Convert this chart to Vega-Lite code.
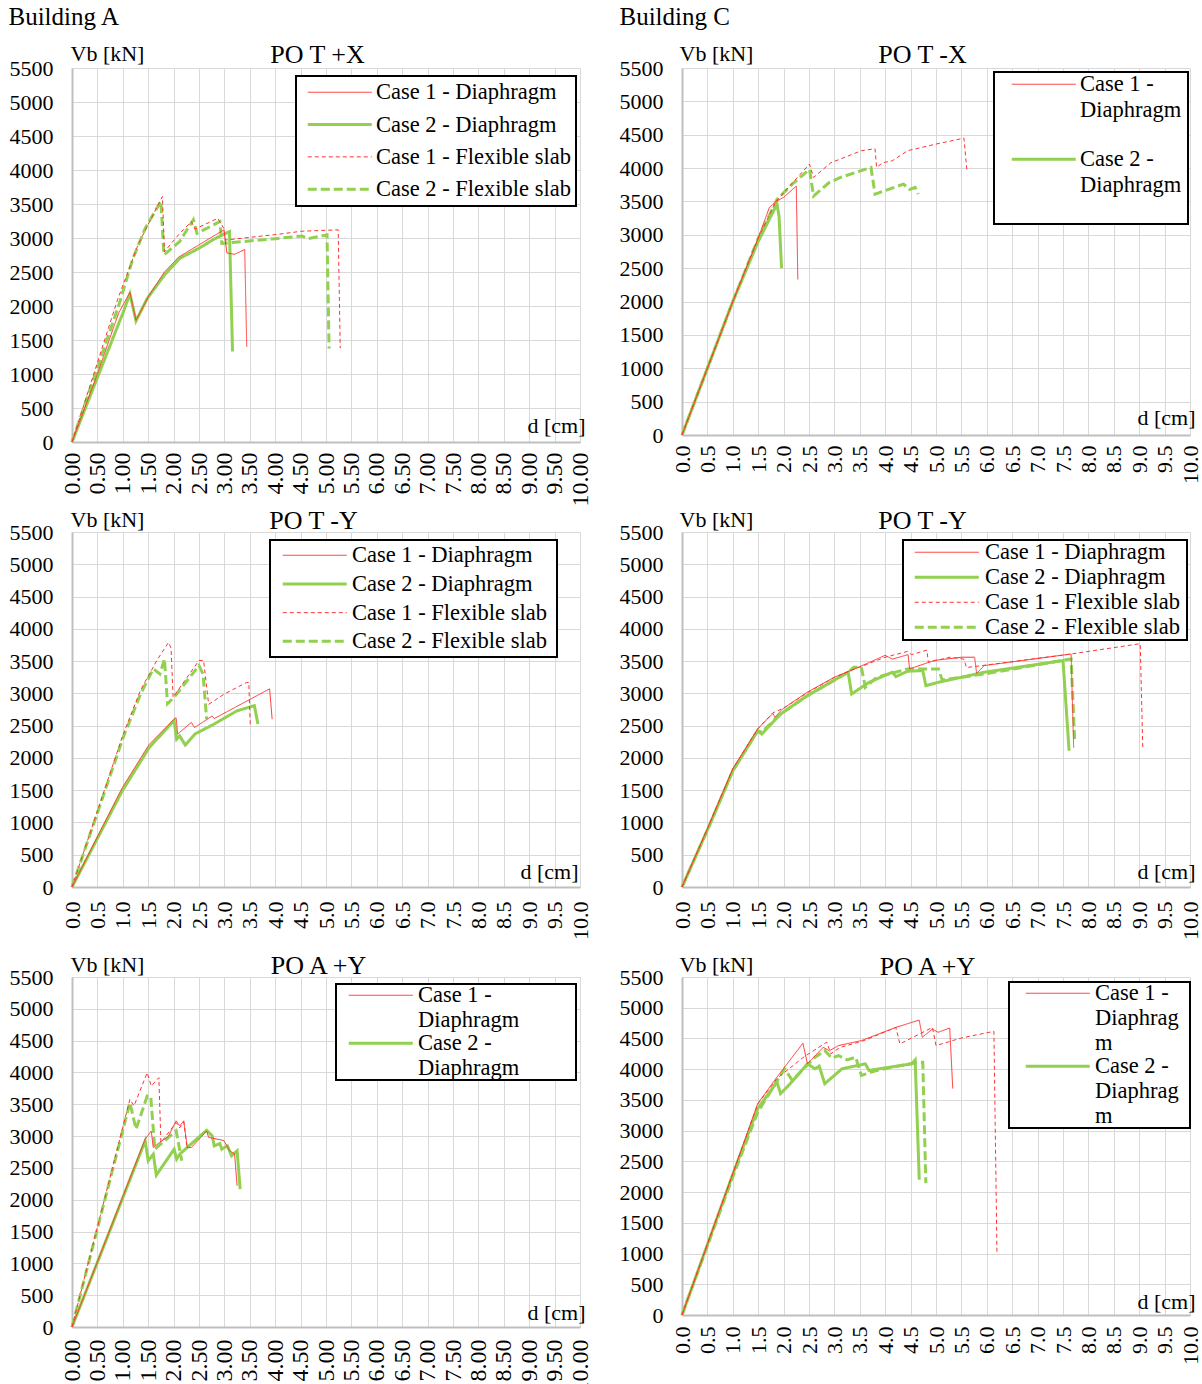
{
"$schema": "https://vega.github.io/schema/vega-lite/v6.json",
"background": "white",
"padding": {"left": 8, "top": 4, "right": 5, "bottom": 5},
"autosize": {"type": "pad"},
"datasets": {
"p1": [
{"s":"Case 1 - Diaphragm","i":0,"x":0,"y":0},{"s":"Case 1 - Diaphragm","i":1,"x":0.45,"y":900},{"s":"Case 1 - Diaphragm","i":2,"x":0.92,"y":1900},{"s":"Case 1 - Diaphragm","i":3,"x":1.14,"y":2200},{"s":"Case 1 - Diaphragm","i":4,"x":1.26,"y":1790},{"s":"Case 1 - Diaphragm","i":5,"x":1.52,"y":2160},{"s":"Case 1 - Diaphragm","i":6,"x":1.82,"y":2500},{"s":"Case 1 - Diaphragm","i":7,"x":2.1,"y":2720},{"s":"Case 1 - Diaphragm","i":8,"x":2.5,"y":2900},{"s":"Case 1 - Diaphragm","i":9,"x":2.99,"y":3120},{"s":"Case 1 - Diaphragm","i":10,"x":3.05,"y":2780},{"s":"Case 1 - Diaphragm","i":11,"x":3.2,"y":2760},{"s":"Case 1 - Diaphragm","i":12,"x":3.4,"y":2830},{"s":"Case 1 - Diaphragm","i":13,"x":3.44,"y":1400},
{"s":"Case 2 - Diaphragm","i":0,"x":0,"y":0},{"s":"Case 2 - Diaphragm","i":1,"x":0.95,"y":1800},{"s":"Case 2 - Diaphragm","i":2,"x":1.0,"y":1890},{"s":"Case 2 - Diaphragm","i":3,"x":1.14,"y":2180},{"s":"Case 2 - Diaphragm","i":4,"x":1.26,"y":1780},{"s":"Case 2 - Diaphragm","i":5,"x":1.48,"y":2110},{"s":"Case 2 - Diaphragm","i":6,"x":1.82,"y":2456},{"s":"Case 2 - Diaphragm","i":7,"x":2.12,"y":2700},{"s":"Case 2 - Diaphragm","i":8,"x":2.5,"y":2850},{"s":"Case 2 - Diaphragm","i":9,"x":2.8,"y":2985},{"s":"Case 2 - Diaphragm","i":10,"x":3.1,"y":3095},{"s":"Case 2 - Diaphragm","i":11,"x":3.16,"y":1330},
{"s":"Case 1 - Flexible slab","i":0,"x":0,"y":0},{"s":"Case 1 - Flexible slab","i":1,"x":0.9,"y":2100},{"s":"Case 1 - Flexible slab","i":2,"x":1.3,"y":2900},{"s":"Case 1 - Flexible slab","i":3,"x":1.5,"y":3200},{"s":"Case 1 - Flexible slab","i":4,"x":1.78,"y":3610},{"s":"Case 1 - Flexible slab","i":5,"x":1.82,"y":2800},{"s":"Case 1 - Flexible slab","i":6,"x":2.1,"y":3050},{"s":"Case 1 - Flexible slab","i":7,"x":2.35,"y":3240},{"s":"Case 1 - Flexible slab","i":8,"x":2.42,"y":3130},{"s":"Case 1 - Flexible slab","i":9,"x":2.87,"y":3290},{"s":"Case 1 - Flexible slab","i":10,"x":2.99,"y":3140},{"s":"Case 1 - Flexible slab","i":11,"x":3.02,"y":2970},{"s":"Case 1 - Flexible slab","i":12,"x":4.0,"y":3050},{"s":"Case 1 - Flexible slab","i":13,"x":4.53,"y":3100},{"s":"Case 1 - Flexible slab","i":14,"x":5.24,"y":3120},{"s":"Case 1 - Flexible slab","i":15,"x":5.28,"y":1380},
{"s":"Case 2 - Flexible slab","i":0,"x":0,"y":0},{"s":"Case 2 - Flexible slab","i":1,"x":0.92,"y":2010},{"s":"Case 2 - Flexible slab","i":2,"x":1.2,"y":2700},{"s":"Case 2 - Flexible slab","i":3,"x":1.44,"y":3140},{"s":"Case 2 - Flexible slab","i":4,"x":1.75,"y":3540},{"s":"Case 2 - Flexible slab","i":5,"x":1.81,"y":2750},{"s":"Case 2 - Flexible slab","i":6,"x":2.12,"y":2950},{"s":"Case 2 - Flexible slab","i":7,"x":2.39,"y":3270},{"s":"Case 2 - Flexible slab","i":8,"x":2.46,"y":3070},{"s":"Case 2 - Flexible slab","i":9,"x":2.91,"y":3240},{"s":"Case 2 - Flexible slab","i":10,"x":2.95,"y":2920},{"s":"Case 2 - Flexible slab","i":11,"x":4.0,"y":2990},{"s":"Case 2 - Flexible slab","i":12,"x":4.53,"y":3030},{"s":"Case 2 - Flexible slab","i":13,"x":4.65,"y":2990},{"s":"Case 2 - Flexible slab","i":14,"x":5.02,"y":3045},{"s":"Case 2 - Flexible slab","i":15,"x":5.06,"y":1375}
],
"p2": [
{"s":"Case 1 - Diaphragm","i":0,"x":0,"y":0},{"s":"Case 1 - Diaphragm","i":1,"x":1.0,"y":2000},{"s":"Case 1 - Diaphragm","i":2,"x":1.5,"y":2950},{"s":"Case 1 - Diaphragm","i":3,"x":1.72,"y":3410},{"s":"Case 1 - Diaphragm","i":4,"x":1.85,"y":3500},{"s":"Case 1 - Diaphragm","i":5,"x":2.0,"y":3560},{"s":"Case 1 - Diaphragm","i":6,"x":2.1,"y":3630},{"s":"Case 1 - Diaphragm","i":7,"x":2.25,"y":3730},{"s":"Case 1 - Diaphragm","i":8,"x":2.28,"y":2330},
{"s":"Case 2 - Diaphragm","i":0,"x":0,"y":0},{"s":"Case 2 - Diaphragm","i":1,"x":1.0,"y":2000},{"s":"Case 2 - Diaphragm","i":2,"x":1.5,"y":2900},{"s":"Case 2 - Diaphragm","i":3,"x":1.87,"y":3460},{"s":"Case 2 - Diaphragm","i":4,"x":1.91,"y":3280},{"s":"Case 2 - Diaphragm","i":5,"x":1.96,"y":2500},
{"s":"Case 1 - Flexible slab","i":0,"x":0,"y":0},{"s":"Case 1 - Flexible slab","i":1,"x":1.0,"y":2000},{"s":"Case 1 - Flexible slab","i":2,"x":1.5,"y":2950},{"s":"Case 1 - Flexible slab","i":3,"x":1.85,"y":3500},{"s":"Case 1 - Flexible slab","i":4,"x":2.2,"y":3800},{"s":"Case 1 - Flexible slab","i":5,"x":2.51,"y":4060},{"s":"Case 1 - Flexible slab","i":6,"x":2.59,"y":3860},{"s":"Case 1 - Flexible slab","i":7,"x":2.93,"y":4080},{"s":"Case 1 - Flexible slab","i":8,"x":3.53,"y":4260},{"s":"Case 1 - Flexible slab","i":9,"x":3.8,"y":4290},{"s":"Case 1 - Flexible slab","i":10,"x":3.83,"y":4010},{"s":"Case 1 - Flexible slab","i":11,"x":3.95,"y":4080},{"s":"Case 1 - Flexible slab","i":12,"x":4.14,"y":4110},{"s":"Case 1 - Flexible slab","i":13,"x":4.44,"y":4260},{"s":"Case 1 - Flexible slab","i":14,"x":5.0,"y":4360},{"s":"Case 1 - Flexible slab","i":15,"x":5.5,"y":4440},{"s":"Case 1 - Flexible slab","i":16,"x":5.55,"y":4450},{"s":"Case 1 - Flexible slab","i":17,"x":5.61,"y":3950},
{"s":"Case 2 - Flexible slab","i":0,"x":0,"y":0},{"s":"Case 2 - Flexible slab","i":1,"x":1.0,"y":2000},{"s":"Case 2 - Flexible slab","i":2,"x":1.49,"y":2930},{"s":"Case 2 - Flexible slab","i":3,"x":1.87,"y":3530},{"s":"Case 2 - Flexible slab","i":4,"x":2.17,"y":3760},{"s":"Case 2 - Flexible slab","i":5,"x":2.51,"y":3980},{"s":"Case 2 - Flexible slab","i":6,"x":2.59,"y":3580},{"s":"Case 2 - Flexible slab","i":7,"x":2.89,"y":3780},{"s":"Case 2 - Flexible slab","i":8,"x":3.12,"y":3860},{"s":"Case 2 - Flexible slab","i":9,"x":3.72,"y":4010},{"s":"Case 2 - Flexible slab","i":10,"x":3.8,"y":3610},{"s":"Case 2 - Flexible slab","i":11,"x":4.36,"y":3760},{"s":"Case 2 - Flexible slab","i":12,"x":4.48,"y":3680},{"s":"Case 2 - Flexible slab","i":13,"x":4.59,"y":3710},{"s":"Case 2 - Flexible slab","i":14,"x":4.65,"y":3610}
],
"p3": [
{"s":"Case 1 - Diaphragm","i":0,"x":0,"y":0},{"s":"Case 1 - Diaphragm","i":1,"x":0.99,"y":1540},{"s":"Case 1 - Diaphragm","i":2,"x":1.52,"y":2210},{"s":"Case 1 - Diaphragm","i":3,"x":2.01,"y":2600},{"s":"Case 1 - Diaphragm","i":4,"x":2.05,"y":2620},{"s":"Case 1 - Diaphragm","i":5,"x":2.08,"y":2370},{"s":"Case 1 - Diaphragm","i":6,"x":2.35,"y":2550},{"s":"Case 1 - Diaphragm","i":7,"x":2.41,"y":2470},{"s":"Case 1 - Diaphragm","i":8,"x":2.76,"y":2650},{"s":"Case 1 - Diaphragm","i":9,"x":2.8,"y":2610},{"s":"Case 1 - Diaphragm","i":10,"x":3.89,"y":3070},{"s":"Case 1 - Diaphragm","i":11,"x":3.94,"y":2600},
{"s":"Case 2 - Diaphragm","i":0,"x":0,"y":0},{"s":"Case 2 - Diaphragm","i":1,"x":0.99,"y":1490},{"s":"Case 2 - Diaphragm","i":2,"x":1.52,"y":2160},{"s":"Case 2 - Diaphragm","i":3,"x":2.01,"y":2580},{"s":"Case 2 - Diaphragm","i":4,"x":2.06,"y":2290},{"s":"Case 2 - Diaphragm","i":5,"x":2.12,"y":2340},{"s":"Case 2 - Diaphragm","i":6,"x":2.23,"y":2200},{"s":"Case 2 - Diaphragm","i":7,"x":2.42,"y":2370},{"s":"Case 2 - Diaphragm","i":8,"x":2.8,"y":2525},{"s":"Case 2 - Diaphragm","i":9,"x":3.25,"y":2730},{"s":"Case 2 - Diaphragm","i":10,"x":3.59,"y":2810},{"s":"Case 2 - Diaphragm","i":11,"x":3.66,"y":2525},
{"s":"Case 1 - Flexible slab","i":0,"x":0,"y":0},{"s":"Case 1 - Flexible slab","i":1,"x":1.0,"y":2350},{"s":"Case 1 - Flexible slab","i":2,"x":1.35,"y":3050},{"s":"Case 1 - Flexible slab","i":3,"x":1.67,"y":3510},{"s":"Case 1 - Flexible slab","i":4,"x":1.9,"y":3790},{"s":"Case 1 - Flexible slab","i":5,"x":1.95,"y":3700},{"s":"Case 1 - Flexible slab","i":6,"x":1.99,"y":2940},{"s":"Case 1 - Flexible slab","i":7,"x":2.5,"y":3510},{"s":"Case 1 - Flexible slab","i":8,"x":2.59,"y":3510},{"s":"Case 1 - Flexible slab","i":9,"x":2.69,"y":2830},{"s":"Case 1 - Flexible slab","i":10,"x":3.0,"y":2990},{"s":"Case 1 - Flexible slab","i":11,"x":3.44,"y":3170},{"s":"Case 1 - Flexible slab","i":12,"x":3.48,"y":3170},{"s":"Case 1 - Flexible slab","i":13,"x":3.51,"y":2500},
{"s":"Case 2 - Flexible slab","i":0,"x":0,"y":0},{"s":"Case 2 - Flexible slab","i":1,"x":1.0,"y":2300},{"s":"Case 2 - Flexible slab","i":2,"x":1.35,"y":2990},{"s":"Case 2 - Flexible slab","i":3,"x":1.6,"y":3380},{"s":"Case 2 - Flexible slab","i":4,"x":1.73,"y":3300},{"s":"Case 2 - Flexible slab","i":5,"x":1.82,"y":3530},{"s":"Case 2 - Flexible slab","i":6,"x":1.88,"y":2840},{"s":"Case 2 - Flexible slab","i":7,"x":2.01,"y":2940},{"s":"Case 2 - Flexible slab","i":8,"x":2.5,"y":3430},{"s":"Case 2 - Flexible slab","i":9,"x":2.58,"y":3300},{"s":"Case 2 - Flexible slab","i":10,"x":2.65,"y":2600}
],
"p4": [
{"s":"Case 1 - Diaphragm","i":0,"x":0,"y":0},{"s":"Case 1 - Diaphragm","i":1,"x":0.51,"y":920},{"s":"Case 1 - Diaphragm","i":2,"x":1.0,"y":1830},{"s":"Case 1 - Diaphragm","i":3,"x":1.49,"y":2450},{"s":"Case 1 - Diaphragm","i":4,"x":1.79,"y":2690},{"s":"Case 1 - Diaphragm","i":5,"x":1.83,"y":2630},{"s":"Case 1 - Diaphragm","i":6,"x":1.98,"y":2760},{"s":"Case 1 - Diaphragm","i":7,"x":2.47,"y":3020},{"s":"Case 1 - Diaphragm","i":8,"x":3.0,"y":3250},{"s":"Case 1 - Diaphragm","i":9,"x":3.31,"y":3350},{"s":"Case 1 - Diaphragm","i":10,"x":3.69,"y":3480},{"s":"Case 1 - Diaphragm","i":11,"x":4.0,"y":3590},{"s":"Case 1 - Diaphragm","i":12,"x":4.14,"y":3530},{"s":"Case 1 - Diaphragm","i":13,"x":4.45,"y":3600},{"s":"Case 1 - Diaphragm","i":14,"x":4.48,"y":3380},{"s":"Case 1 - Diaphragm","i":15,"x":4.97,"y":3510},{"s":"Case 1 - Diaphragm","i":16,"x":5.5,"y":3560},{"s":"Case 1 - Diaphragm","i":17,"x":5.76,"y":3560},{"s":"Case 1 - Diaphragm","i":18,"x":5.8,"y":3310},{"s":"Case 1 - Diaphragm","i":19,"x":5.95,"y":3430},{"s":"Case 1 - Diaphragm","i":20,"x":7.66,"y":3610},{"s":"Case 1 - Diaphragm","i":21,"x":7.71,"y":2160},
{"s":"Case 2 - Diaphragm","i":0,"x":0,"y":0},{"s":"Case 2 - Diaphragm","i":1,"x":0.51,"y":900},{"s":"Case 2 - Diaphragm","i":2,"x":1.0,"y":1800},{"s":"Case 2 - Diaphragm","i":3,"x":1.49,"y":2420},{"s":"Case 2 - Diaphragm","i":4,"x":1.57,"y":2370},{"s":"Case 2 - Diaphragm","i":5,"x":1.94,"y":2680},{"s":"Case 2 - Diaphragm","i":6,"x":2.47,"y":2965},{"s":"Case 2 - Diaphragm","i":7,"x":3.27,"y":3327},{"s":"Case 2 - Diaphragm","i":8,"x":3.34,"y":2990},{"s":"Case 2 - Diaphragm","i":9,"x":3.68,"y":3170},{"s":"Case 2 - Diaphragm","i":10,"x":4.14,"y":3327},{"s":"Case 2 - Diaphragm","i":11,"x":4.21,"y":3260},{"s":"Case 2 - Diaphragm","i":12,"x":4.44,"y":3343},{"s":"Case 2 - Diaphragm","i":13,"x":4.74,"y":3353},{"s":"Case 2 - Diaphragm","i":14,"x":4.8,"y":3120},{"s":"Case 2 - Diaphragm","i":15,"x":5.05,"y":3172},{"s":"Case 2 - Diaphragm","i":16,"x":5.95,"y":3327},{"s":"Case 2 - Diaphragm","i":17,"x":7.5,"y":3508},{"s":"Case 2 - Diaphragm","i":18,"x":7.62,"y":2111},
{"s":"Case 1 - Flexible slab","i":0,"x":0,"y":0},{"s":"Case 1 - Flexible slab","i":1,"x":0.51,"y":920},{"s":"Case 1 - Flexible slab","i":2,"x":1.0,"y":1830},{"s":"Case 1 - Flexible slab","i":3,"x":1.49,"y":2450},{"s":"Case 1 - Flexible slab","i":4,"x":1.79,"y":2700},{"s":"Case 1 - Flexible slab","i":5,"x":2.0,"y":2770},{"s":"Case 1 - Flexible slab","i":6,"x":2.47,"y":3010},{"s":"Case 1 - Flexible slab","i":7,"x":3.0,"y":3250},{"s":"Case 1 - Flexible slab","i":8,"x":3.31,"y":3350},{"s":"Case 1 - Flexible slab","i":9,"x":4.0,"y":3560},{"s":"Case 1 - Flexible slab","i":10,"x":4.44,"y":3650},{"s":"Case 1 - Flexible slab","i":11,"x":4.52,"y":3600},{"s":"Case 1 - Flexible slab","i":12,"x":4.82,"y":3670},{"s":"Case 1 - Flexible slab","i":13,"x":4.85,"y":3480},{"s":"Case 1 - Flexible slab","i":14,"x":5.27,"y":3560},{"s":"Case 1 - Flexible slab","i":15,"x":5.55,"y":3530},{"s":"Case 1 - Flexible slab","i":16,"x":5.6,"y":3400},{"s":"Case 1 - Flexible slab","i":17,"x":6.0,"y":3440},{"s":"Case 1 - Flexible slab","i":18,"x":7.66,"y":3610},{"s":"Case 1 - Flexible slab","i":19,"x":9.02,"y":3770},{"s":"Case 1 - Flexible slab","i":20,"x":9.07,"y":2160},
{"s":"Case 2 - Flexible slab","i":0,"x":0,"y":0},{"s":"Case 2 - Flexible slab","i":1,"x":0.51,"y":900},{"s":"Case 2 - Flexible slab","i":2,"x":1.0,"y":1800},{"s":"Case 2 - Flexible slab","i":3,"x":1.49,"y":2420},{"s":"Case 2 - Flexible slab","i":4,"x":1.57,"y":2400},{"s":"Case 2 - Flexible slab","i":5,"x":1.94,"y":2680},{"s":"Case 2 - Flexible slab","i":6,"x":2.47,"y":2965},{"s":"Case 2 - Flexible slab","i":7,"x":3.27,"y":3327},{"s":"Case 2 - Flexible slab","i":8,"x":3.38,"y":3405},{"s":"Case 2 - Flexible slab","i":9,"x":3.53,"y":3405},{"s":"Case 2 - Flexible slab","i":10,"x":3.61,"y":3094},{"s":"Case 2 - Flexible slab","i":11,"x":3.83,"y":3249},{"s":"Case 2 - Flexible slab","i":12,"x":4.44,"y":3379},{"s":"Case 2 - Flexible slab","i":13,"x":5.05,"y":3379},{"s":"Case 2 - Flexible slab","i":14,"x":5.12,"y":3208},{"s":"Case 2 - Flexible slab","i":15,"x":5.95,"y":3300},{"s":"Case 2 - Flexible slab","i":16,"x":7.66,"y":3534},{"s":"Case 2 - Flexible slab","i":17,"x":7.73,"y":2266}
],
"p5": [
{"s":"Case 1 - Diaphragm","i":0,"x":0,"y":0},{"s":"Case 1 - Diaphragm","i":1,"x":1.44,"y":2950},{"s":"Case 1 - Diaphragm","i":2,"x":1.56,"y":3080},{"s":"Case 1 - Diaphragm","i":3,"x":1.6,"y":2820},{"s":"Case 1 - Diaphragm","i":4,"x":1.66,"y":2860},{"s":"Case 1 - Diaphragm","i":5,"x":1.9,"y":3000},{"s":"Case 1 - Diaphragm","i":6,"x":2.05,"y":3240},{"s":"Case 1 - Diaphragm","i":7,"x":2.12,"y":3160},{"s":"Case 1 - Diaphragm","i":8,"x":2.2,"y":3240},{"s":"Case 1 - Diaphragm","i":9,"x":2.27,"y":2820},{"s":"Case 1 - Diaphragm","i":10,"x":2.35,"y":2820},{"s":"Case 1 - Diaphragm","i":11,"x":2.65,"y":3080},{"s":"Case 1 - Diaphragm","i":12,"x":2.69,"y":2980},{"s":"Case 1 - Diaphragm","i":13,"x":2.99,"y":2930},{"s":"Case 1 - Diaphragm","i":14,"x":3.1,"y":2770},{"s":"Case 1 - Diaphragm","i":15,"x":3.2,"y":2720},{"s":"Case 1 - Diaphragm","i":16,"x":3.25,"y":2220},
{"s":"Case 2 - Diaphragm","i":0,"x":0,"y":0},{"s":"Case 2 - Diaphragm","i":1,"x":1.44,"y":2925},{"s":"Case 2 - Diaphragm","i":2,"x":1.5,"y":2612},{"s":"Case 2 - Diaphragm","i":3,"x":1.6,"y":2716},{"s":"Case 2 - Diaphragm","i":4,"x":1.66,"y":2387},{"s":"Case 2 - Diaphragm","i":5,"x":2.01,"y":2794},{"s":"Case 2 - Diaphragm","i":6,"x":2.06,"y":2638},{"s":"Case 2 - Diaphragm","i":7,"x":2.12,"y":2716},{"s":"Case 2 - Diaphragm","i":8,"x":2.65,"y":3092},{"s":"Case 2 - Diaphragm","i":9,"x":2.76,"y":3003},{"s":"Case 2 - Diaphragm","i":10,"x":2.8,"y":2847},{"s":"Case 2 - Diaphragm","i":11,"x":2.91,"y":2883},{"s":"Case 2 - Diaphragm","i":12,"x":2.95,"y":2794},{"s":"Case 2 - Diaphragm","i":13,"x":3.06,"y":2847},{"s":"Case 2 - Diaphragm","i":14,"x":3.14,"y":2690},{"s":"Case 2 - Diaphragm","i":15,"x":3.25,"y":2768},{"s":"Case 2 - Diaphragm","i":16,"x":3.31,"y":2168},
{"s":"Case 1 - Flexible slab","i":0,"x":0,"y":0},{"s":"Case 1 - Flexible slab","i":1,"x":1.14,"y":3578},{"s":"Case 1 - Flexible slab","i":2,"x":1.22,"y":3474},{"s":"Case 1 - Flexible slab","i":3,"x":1.48,"y":3996},{"s":"Case 1 - Flexible slab","i":4,"x":1.56,"y":3787},{"s":"Case 1 - Flexible slab","i":5,"x":1.71,"y":3918},{"s":"Case 1 - Flexible slab","i":6,"x":1.75,"y":2899},{"s":"Case 1 - Flexible slab","i":7,"x":2.05,"y":3212},{"s":"Case 1 - Flexible slab","i":8,"x":2.12,"y":3130},{"s":"Case 1 - Flexible slab","i":9,"x":2.2,"y":3223},{"s":"Case 1 - Flexible slab","i":10,"x":2.26,"y":2847},
{"s":"Case 2 - Flexible slab","i":0,"x":0,"y":0},{"s":"Case 2 - Flexible slab","i":1,"x":1.14,"y":3526},{"s":"Case 2 - Flexible slab","i":2,"x":1.26,"y":3108},{"s":"Case 2 - Flexible slab","i":3,"x":1.48,"y":3630},{"s":"Case 2 - Flexible slab","i":4,"x":1.55,"y":3620},{"s":"Case 2 - Flexible slab","i":5,"x":1.63,"y":2794},{"s":"Case 2 - Flexible slab","i":6,"x":2.05,"y":3082},{"s":"Case 2 - Flexible slab","i":7,"x":2.16,"y":2612}
],
"p6": [
{"s":"Case 1 - Diaphragm","i":0,"x":0,"y":0},{"s":"Case 1 - Diaphragm","i":1,"x":1.0,"y":2300},{"s":"Case 1 - Diaphragm","i":2,"x":1.49,"y":3440},{"s":"Case 1 - Diaphragm","i":3,"x":1.87,"y":3872},{"s":"Case 1 - Diaphragm","i":4,"x":2.38,"y":4422},{"s":"Case 1 - Diaphragm","i":5,"x":2.47,"y":4087},{"s":"Case 1 - Diaphragm","i":6,"x":2.78,"y":4357},{"s":"Case 1 - Diaphragm","i":7,"x":2.9,"y":4300},{"s":"Case 1 - Diaphragm","i":8,"x":3.08,"y":4384},{"s":"Case 1 - Diaphragm","i":9,"x":3.53,"y":4465},{"s":"Case 1 - Diaphragm","i":10,"x":4.21,"y":4680},{"s":"Case 1 - Diaphragm","i":11,"x":4.67,"y":4799},{"s":"Case 1 - Diaphragm","i":12,"x":4.73,"y":4519},{"s":"Case 1 - Diaphragm","i":13,"x":4.93,"y":4653},{"s":"Case 1 - Diaphragm","i":14,"x":5.04,"y":4600},{"s":"Case 1 - Diaphragm","i":15,"x":5.27,"y":4670},{"s":"Case 1 - Diaphragm","i":16,"x":5.33,"y":3683},
{"s":"Case 2 - Diaphragm","i":0,"x":0,"y":0},{"s":"Case 2 - Diaphragm","i":1,"x":1.0,"y":2290},{"s":"Case 2 - Diaphragm","i":2,"x":1.49,"y":3359},{"s":"Case 2 - Diaphragm","i":3,"x":1.87,"y":3791},{"s":"Case 2 - Diaphragm","i":4,"x":1.94,"y":3602},{"s":"Case 2 - Diaphragm","i":5,"x":2.1,"y":3737},{"s":"Case 2 - Diaphragm","i":6,"x":2.47,"y":4087},{"s":"Case 2 - Diaphragm","i":7,"x":2.62,"y":4006},{"s":"Case 2 - Diaphragm","i":8,"x":2.7,"y":4050},{"s":"Case 2 - Diaphragm","i":9,"x":2.81,"y":3764},{"s":"Case 2 - Diaphragm","i":10,"x":3.15,"y":4006},{"s":"Case 2 - Diaphragm","i":11,"x":3.61,"y":4087},{"s":"Case 2 - Diaphragm","i":12,"x":3.68,"y":3980},{"s":"Case 2 - Diaphragm","i":13,"x":4.52,"y":4087},{"s":"Case 2 - Diaphragm","i":14,"x":4.59,"y":4152},{"s":"Case 2 - Diaphragm","i":15,"x":4.67,"y":2200},
{"s":"Case 1 - Flexible slab","i":0,"x":0,"y":0},{"s":"Case 1 - Flexible slab","i":1,"x":1.0,"y":2300},{"s":"Case 1 - Flexible slab","i":2,"x":1.49,"y":3430},{"s":"Case 1 - Flexible slab","i":3,"x":1.87,"y":3850},{"s":"Case 1 - Flexible slab","i":4,"x":2.4,"y":4200},{"s":"Case 1 - Flexible slab","i":5,"x":2.85,"y":4440},{"s":"Case 1 - Flexible slab","i":6,"x":2.93,"y":4250},{"s":"Case 1 - Flexible slab","i":7,"x":3.1,"y":4350},{"s":"Case 1 - Flexible slab","i":8,"x":3.6,"y":4470},{"s":"Case 1 - Flexible slab","i":9,"x":4.21,"y":4680},{"s":"Case 1 - Flexible slab","i":10,"x":4.29,"y":4411},{"s":"Case 1 - Flexible slab","i":11,"x":4.93,"y":4680},{"s":"Case 1 - Flexible slab","i":12,"x":5.0,"y":4384},{"s":"Case 1 - Flexible slab","i":13,"x":5.5,"y":4508},{"s":"Case 1 - Flexible slab","i":14,"x":6.14,"y":4616},{"s":"Case 1 - Flexible slab","i":15,"x":6.2,"y":1014},
{"s":"Case 2 - Flexible slab","i":0,"x":0,"y":0},{"s":"Case 2 - Flexible slab","i":1,"x":1.0,"y":2250},{"s":"Case 2 - Flexible slab","i":2,"x":1.49,"y":3300},{"s":"Case 2 - Flexible slab","i":3,"x":2.02,"y":4006},{"s":"Case 2 - Flexible slab","i":4,"x":2.17,"y":3818},{"s":"Case 2 - Flexible slab","i":5,"x":2.62,"y":4195},{"s":"Case 2 - Flexible slab","i":6,"x":2.81,"y":4303},{"s":"Case 2 - Flexible slab","i":7,"x":2.95,"y":4180},{"s":"Case 2 - Flexible slab","i":8,"x":3.08,"y":4222},{"s":"Case 2 - Flexible slab","i":9,"x":3.25,"y":4150},{"s":"Case 2 - Flexible slab","i":10,"x":3.42,"y":4195},{"s":"Case 2 - Flexible slab","i":11,"x":3.53,"y":3899},{"s":"Case 2 - Flexible slab","i":12,"x":3.84,"y":3980},{"s":"Case 2 - Flexible slab","i":13,"x":4.14,"y":4033},{"s":"Case 2 - Flexible slab","i":14,"x":4.67,"y":4114},{"s":"Case 2 - Flexible slab","i":15,"x":4.74,"y":4114},{"s":"Case 2 - Flexible slab","i":16,"x":4.8,"y":2146}
]
},
"columns": 2,
"spacing": {"row": 90, "column": 102},
"bounds": "flush",
"resolve": {"scale": {"color": "independent", "strokeDash": "independent", "strokeWidth": "independent"}, "legend": {"color": "independent", "strokeDash": "independent", "strokeWidth": "independent"}},
"concat": [
{
 "width": 508, "height": 374, "data": {"name": "p1"},
 "layer": [
  {"transform": [{"filter": "indexof(datum.s,'Case 2')==0"}], "mark": {"type": "line"},
   "encoding": {
    "x": {"field": "x", "type": "quantitative", "scale": {"domain": [0, 10], "nice": false}, "axis": {"orient": "bottom", "values": [0,0.5,1,1.5,2,2.5,3,3.5,4,4.5,5,5.5,6,6.5,7,7.5,8,8.5,9,9.5,10], "format": ".2f", "labelFontSize": 24, "labelAngle": 270, "labelAlign": "right", "labelBaseline": "middle", "labelPadding": 10, "grid": true, "title": "d [cm]", "titleAngle": 0, "titleX": 513, "titleY": -10, "titleAlign": "right", "titleBaseline": "alphabetic"}},
    "y": {"field": "y", "type": "quantitative", "scale": {"domain": [0, 5500], "nice": false}, "axis": {"orient": "left", "values": [0,500,1000,1500,2000,2500,3000,3500,4000,4500,5000,5500], "format": "d", "labelPadding": 19, "grid": true, "title": "Vb [kN]", "titleAngle": 0, "titleX": -2, "titleY": -8, "titleAlign": "left", "titleBaseline": "alphabetic"}},
    "order": {"field": "i", "type": "quantitative"},
    "color": {"field": "s", "type": "nominal", "scale": {"domain": ["Case 1 - Diaphragm","Case 2 - Diaphragm","Case 1 - Flexible slab","Case 2 - Flexible slab"], "range": ["#ff3333","#92d050","#ff3333","#92d050"]},
      "legend": {"title": null, "orient": "none", "legendX": 224, "legendY": 8, "padding": 5, "rowPadding": 9.3, "symbolOffset": -4.5, "labelOffset": 57, "encode": {"legend": {"update": {"strokeWidth": {"value": 2}}}}}},
    "strokeDash": {"field": "s", "type": "nominal", "scale": {"domain": ["Case 1 - Diaphragm","Case 2 - Diaphragm","Case 1 - Flexible slab","Case 2 - Flexible slab"], "range": [[1,0],[1,0],[4,3],[9,4]]}},
    "strokeWidth": {"field": "s", "type": "nominal", "scale": {"type": "ordinal", "domain": ["Case 1 - Diaphragm","Case 2 - Diaphragm","Case 1 - Flexible slab","Case 2 - Flexible slab"], "range": [1,3,1,3]}}
   }},
  {"transform": [{"filter": "indexof(datum.s,'Case 1')==0"}], "mark": {"type": "line"},
   "encoding": {
    "x": {"field": "x", "type": "quantitative", "axis": {"orient": "top", "labels": false, "domain": false, "grid": false, "title": "PO T +X", "titleFontSize": 26, "titleAngle": 0, "titleX": 245, "titleY": -6, "titleAlign": "center", "titleBaseline": "alphabetic"}},
    "y": {"field": "y", "type": "quantitative", "axis": {"orient": "left", "labels": false, "domain": false, "grid": false, "title": "Building A", "titleFontSize": 25, "titleAngle": 0, "titleX": -64, "titleY": -44, "titleAlign": "left", "titleBaseline": "alphabetic"}},
    "order": {"field": "i", "type": "quantitative"},
    "color": {"field": "s", "type": "nominal"},
    "strokeDash": {"field": "s", "type": "nominal"},
    "strokeWidth": {"field": "s", "type": "nominal", "scale": {"type": "ordinal", "domain": ["Case 1 - Diaphragm","Case 2 - Diaphragm","Case 1 - Flexible slab","Case 2 - Flexible slab"], "range": [1,3,1,3]}}
   }}
 ],
 "resolve": {"axis": {"x": "independent", "y": "independent"}}
},
{
 "width": 508, "height": 367, "data": {"name": "p2"},
 "layer": [
  {"transform": [{"filter": "indexof(datum.s,'Case 2')==0"}], "mark": {"type": "line"},
   "encoding": {
    "x": {"field": "x", "type": "quantitative", "scale": {"domain": [0, 10], "nice": false}, "axis": {"orient": "bottom", "values": [0,0.5,1,1.5,2,2.5,3,3.5,4,4.5,5,5.5,6,6.5,7,7.5,8,8.5,9,9.5,10], "format": ".1f", "labelAngle": 270, "labelAlign": "right", "labelBaseline": "middle", "labelPadding": 10, "grid": true, "title": "d [cm]", "titleAngle": 0, "titleX": 513, "titleY": -11, "titleAlign": "right", "titleBaseline": "alphabetic"}},
    "y": {"field": "y", "type": "quantitative", "scale": {"domain": [0, 5500], "nice": false}, "axis": {"orient": "left", "values": [0,500,1000,1500,2000,2500,3000,3500,4000,4500,5000,5500], "format": "d", "labelPadding": 19, "grid": true, "title": "Vb [kN]", "titleAngle": 0, "titleX": -3, "titleY": -8, "titleAlign": "left", "titleBaseline": "alphabetic"}},
    "order": {"field": "i", "type": "quantitative"},
    "color": {"field": "s", "type": "nominal", "scale": {"domain": ["Case 1 - Diaphragm","Case 2 - Diaphragm","Case 1 - Flexible slab","Case 2 - Flexible slab"], "range": ["#ff3333","#92d050","#ff3333","#92d050"]},
      "legend": {"title": null, "orient": "none", "legendX": 312, "legendY": 4, "padding": 1, "rowPadding": -1, "symbolOffset": 5.5, "labelOffset": 57, "labelBaseline": "top", "values": ["Case 1 - Diaphragm","Case 2 - Diaphragm"], "labelExpr": "datum.label == 'Case 1 - Diaphragm' ? ['Case 1 -', 'Diaphragm\u00a0\u200b', ''] : ['Case 2 -', 'Diaphragm\u00a0\u200b', '']", "encode": {"legend": {"update": {"strokeWidth": {"value": 2}}}, "labels": {"update": {"dy": {"value": -11}, "lineHeight": {"value": 26}}}}}},
    "strokeDash": {"field": "s", "type": "nominal", "scale": {"domain": ["Case 1 - Diaphragm","Case 2 - Diaphragm","Case 1 - Flexible slab","Case 2 - Flexible slab"], "range": [[1,0],[1,0],[4,3],[9,4]]}},
    "strokeWidth": {"field": "s", "type": "nominal", "scale": {"type": "ordinal", "domain": ["Case 1 - Diaphragm","Case 2 - Diaphragm","Case 1 - Flexible slab","Case 2 - Flexible slab"], "range": [1,3,1,3]}}
   }},
  {"transform": [{"filter": "indexof(datum.s,'Case 1')==0"}], "mark": {"type": "line"},
   "encoding": {
    "x": {"field": "x", "type": "quantitative", "axis": {"orient": "top", "labels": false, "domain": false, "grid": false, "title": "PO T -X", "titleFontSize": 26, "titleAngle": 0, "titleX": 240, "titleY": -6, "titleAlign": "center", "titleBaseline": "alphabetic"}},
    "y": {"field": "y", "type": "quantitative", "axis": {"orient": "left", "labels": false, "domain": false, "grid": false, "title": "Building C", "titleFontSize": 25, "titleAngle": 0, "titleX": -63, "titleY": -44, "titleAlign": "left", "titleBaseline": "alphabetic"}},
    "order": {"field": "i", "type": "quantitative"},
    "color": {"field": "s", "type": "nominal"},
    "strokeDash": {"field": "s", "type": "nominal"},
    "strokeWidth": {"field": "s", "type": "nominal", "scale": {"type": "ordinal", "domain": ["Case 1 - Diaphragm","Case 2 - Diaphragm","Case 1 - Flexible slab","Case 2 - Flexible slab"], "range": [1,3,1,3]}}
   }}
 ],
 "resolve": {"axis": {"x": "independent", "y": "independent"}}
},
{
 "width": 508, "height": 355, "data": {"name": "p3"},
 "layer": [
  {"transform": [{"filter": "indexof(datum.s,'Case 2')==0"}], "mark": {"type": "line"},
   "encoding": {
    "x": {"field": "x", "type": "quantitative", "scale": {"domain": [0, 10], "nice": false}, "axis": {"orient": "bottom", "values": [0,0.5,1,1.5,2,2.5,3,3.5,4,4.5,5,5.5,6,6.5,7,7.5,8,8.5,9,9.5,10], "format": ".1f", "labelAngle": 270, "labelAlign": "right", "labelBaseline": "middle", "labelPadding": 14, "grid": true, "title": "d [cm]", "titleAngle": 0, "titleX": 506, "titleY": -9, "titleAlign": "right", "titleBaseline": "alphabetic"}},
    "y": {"field": "y", "type": "quantitative", "scale": {"domain": [0, 5500], "nice": false}, "axis": {"orient": "left", "values": [0,500,1000,1500,2000,2500,3000,3500,4000,4500,5000,5500], "format": "d", "labelPadding": 19, "grid": true, "title": "Vb [kN]", "titleAngle": 0, "titleX": -2, "titleY": -6, "titleAlign": "left", "titleBaseline": "alphabetic"}},
    "order": {"field": "i", "type": "quantitative"},
    "color": {"field": "s", "type": "nominal", "scale": {"domain": ["Case 1 - Diaphragm","Case 2 - Diaphragm","Case 1 - Flexible slab","Case 2 - Flexible slab"], "range": ["#ff3333","#92d050","#ff3333","#92d050"]},
      "legend": {"title": null, "orient": "none", "legendX": 198, "legendY": 8, "padding": 4, "rowPadding": 5.7, "symbolOffset": -2.5, "labelOffset": 58, "labelExpr": "datum.label + '\u00a0\u200b'", "encode": {"legend": {"update": {"strokeWidth": {"value": 2}}}}}},
    "strokeDash": {"field": "s", "type": "nominal", "scale": {"domain": ["Case 1 - Diaphragm","Case 2 - Diaphragm","Case 1 - Flexible slab","Case 2 - Flexible slab"], "range": [[1,0],[1,0],[4,3],[9,4]]}},
    "strokeWidth": {"field": "s", "type": "nominal", "scale": {"type": "ordinal", "domain": ["Case 1 - Diaphragm","Case 2 - Diaphragm","Case 1 - Flexible slab","Case 2 - Flexible slab"], "range": [1,3,1,3]}}
   }},
  {"transform": [{"filter": "indexof(datum.s,'Case 1')==0"}], "mark": {"type": "line"},
   "encoding": {
    "x": {"field": "x", "type": "quantitative", "axis": {"orient": "top", "labels": false, "domain": false, "grid": false, "title": "PO T -Y", "titleFontSize": 26, "titleAngle": 0, "titleX": 241, "titleY": -4, "titleAlign": "center", "titleBaseline": "alphabetic"}},
    "y": {"field": "y", "type": "quantitative", "axis": null},
    "order": {"field": "i", "type": "quantitative"},
    "color": {"field": "s", "type": "nominal"},
    "strokeDash": {"field": "s", "type": "nominal"},
    "strokeWidth": {"field": "s", "type": "nominal", "scale": {"type": "ordinal", "domain": ["Case 1 - Diaphragm","Case 2 - Diaphragm","Case 1 - Flexible slab","Case 2 - Flexible slab"], "range": [1,3,1,3]}}
   }}
 ],
 "resolve": {"axis": {"x": "independent", "y": "independent"}}
},
{
 "width": 508, "height": 355, "data": {"name": "p4"},
 "layer": [
  {"transform": [{"filter": "indexof(datum.s,'Case 2')==0"}], "mark": {"type": "line"},
   "encoding": {
    "x": {"field": "x", "type": "quantitative", "scale": {"domain": [0, 10], "nice": false}, "axis": {"orient": "bottom", "values": [0,0.5,1,1.5,2,2.5,3,3.5,4,4.5,5,5.5,6,6.5,7,7.5,8,8.5,9,9.5,10], "format": ".1f", "labelAngle": 270, "labelAlign": "right", "labelBaseline": "middle", "labelPadding": 14, "grid": true, "title": "d [cm]", "titleAngle": 0, "titleX": 513, "titleY": -9, "titleAlign": "right", "titleBaseline": "alphabetic"}},
    "y": {"field": "y", "type": "quantitative", "scale": {"domain": [0, 5500], "nice": false}, "axis": {"orient": "left", "values": [0,500,1000,1500,2000,2500,3000,3500,4000,4500,5000,5500], "format": "d", "labelPadding": 19, "grid": true, "title": "Vb [kN]", "titleAngle": 0, "titleX": -3, "titleY": -6, "titleAlign": "left", "titleBaseline": "alphabetic"}},
    "order": {"field": "i", "type": "quantitative"},
    "color": {"field": "s", "type": "nominal", "scale": {"domain": ["Case 1 - Diaphragm","Case 2 - Diaphragm","Case 1 - Flexible slab","Case 2 - Flexible slab"], "range": ["#ff3333","#92d050","#ff3333","#92d050"]},
      "legend": {"title": null, "orient": "none", "legendX": 221, "legendY": 8, "padding": 1, "rowPadding": 2, "symbolOffset": -0.5, "labelOffset": 59, "labelExpr": "datum.label + '\u00a0\u200b'", "encode": {"legend": {"update": {"strokeWidth": {"value": 2}}}}}},
    "strokeDash": {"field": "s", "type": "nominal", "scale": {"domain": ["Case 1 - Diaphragm","Case 2 - Diaphragm","Case 1 - Flexible slab","Case 2 - Flexible slab"], "range": [[1,0],[1,0],[4,3],[9,4]]}},
    "strokeWidth": {"field": "s", "type": "nominal", "scale": {"type": "ordinal", "domain": ["Case 1 - Diaphragm","Case 2 - Diaphragm","Case 1 - Flexible slab","Case 2 - Flexible slab"], "range": [1,3,1,3]}}
   }},
  {"transform": [{"filter": "indexof(datum.s,'Case 1')==0"}], "mark": {"type": "line"},
   "encoding": {
    "x": {"field": "x", "type": "quantitative", "axis": {"orient": "top", "labels": false, "domain": false, "grid": false, "title": "PO T -Y", "titleFontSize": 26, "titleAngle": 0, "titleX": 240, "titleY": -4, "titleAlign": "center", "titleBaseline": "alphabetic"}},
    "y": {"field": "y", "type": "quantitative", "axis": null},
    "order": {"field": "i", "type": "quantitative"},
    "color": {"field": "s", "type": "nominal"},
    "strokeDash": {"field": "s", "type": "nominal"},
    "strokeWidth": {"field": "s", "type": "nominal", "scale": {"type": "ordinal", "domain": ["Case 1 - Diaphragm","Case 2 - Diaphragm","Case 1 - Flexible slab","Case 2 - Flexible slab"], "range": [1,3,1,3]}}
   }}
 ],
 "resolve": {"axis": {"x": "independent", "y": "independent"}}
},
{
 "width": 508, "height": 350, "data": {"name": "p5"},
 "layer": [
  {"transform": [{"filter": "indexof(datum.s,'Case 2')==0"}], "mark": {"type": "line"},
   "encoding": {
    "x": {"field": "x", "type": "quantitative", "scale": {"domain": [0, 10], "nice": false}, "axis": {"orient": "bottom", "values": [0,0.5,1,1.5,2,2.5,3,3.5,4,4.5,5,5.5,6,6.5,7,7.5,8,8.5,9,9.5,10], "format": ".2f", "labelFontSize": 24, "labelAngle": 270, "labelAlign": "right", "labelBaseline": "middle", "labelPadding": 12, "grid": true, "title": "d [cm]", "titleAngle": 0, "titleX": 513, "titleY": -8, "titleAlign": "right", "titleBaseline": "alphabetic"}},
    "y": {"field": "y", "type": "quantitative", "scale": {"domain": [0, 5500], "nice": false}, "axis": {"orient": "left", "values": [0,500,1000,1500,2000,2500,3000,3500,4000,4500,5000,5500], "format": "d", "labelPadding": 19, "grid": true, "title": "Vb [kN]", "titleAngle": 0, "titleX": -2, "titleY": -6, "titleAlign": "left", "titleBaseline": "alphabetic"}},
    "order": {"field": "i", "type": "quantitative"},
    "color": {"field": "s", "type": "nominal", "scale": {"domain": ["Case 1 - Diaphragm","Case 2 - Diaphragm","Case 1 - Flexible slab","Case 2 - Flexible slab"], "range": ["#ff3333","#92d050","#ff3333","#92d050"]},
      "legend": {"title": null, "orient": "none", "legendX": 264, "legendY": 7, "padding": 0, "rowPadding": 0, "symbolOffset": 1.5, "labelOffset": 58, "labelBaseline": "top", "values": ["Case 1 - Diaphragm","Case 2 - Diaphragm"], "labelExpr": "datum.label == 'Case 1 - Diaphragm' ? ['Case 1 -', 'Diaphragm\u00a0\u00a0\u00a0\u00a0\u00a0\u00a0\u00a0\u00a0\u00a0\u00a0\u200b'] : ['Case 2 -', 'Diaphragm\u00a0\u00a0\u00a0\u00a0\u00a0\u00a0\u00a0\u00a0\u00a0\u00a0\u200b']", "encode": {"legend": {"update": {"strokeWidth": {"value": 2}}}, "labels": {"update": {"dy": {"value": -11}, "lineHeight": {"value": 25}}}}}},
    "strokeDash": {"field": "s", "type": "nominal", "scale": {"domain": ["Case 1 - Diaphragm","Case 2 - Diaphragm","Case 1 - Flexible slab","Case 2 - Flexible slab"], "range": [[1,0],[1,0],[4,3],[9,4]]}},
    "strokeWidth": {"field": "s", "type": "nominal", "scale": {"type": "ordinal", "domain": ["Case 1 - Diaphragm","Case 2 - Diaphragm","Case 1 - Flexible slab","Case 2 - Flexible slab"], "range": [1,3,1,3]}}
   }},
  {"transform": [{"filter": "indexof(datum.s,'Case 1')==0"}], "mark": {"type": "line"},
   "encoding": {
    "x": {"field": "x", "type": "quantitative", "axis": {"orient": "top", "labels": false, "domain": false, "grid": false, "title": "PO A +Y", "titleFontSize": 26, "titleAngle": 0, "titleX": 246, "titleY": -4, "titleAlign": "center", "titleBaseline": "alphabetic"}},
    "y": {"field": "y", "type": "quantitative", "axis": null},
    "order": {"field": "i", "type": "quantitative"},
    "color": {"field": "s", "type": "nominal"},
    "strokeDash": {"field": "s", "type": "nominal"},
    "strokeWidth": {"field": "s", "type": "nominal", "scale": {"type": "ordinal", "domain": ["Case 1 - Diaphragm","Case 2 - Diaphragm","Case 1 - Flexible slab","Case 2 - Flexible slab"], "range": [1,3,1,3]}}
   }}
 ],
 "resolve": {"axis": {"x": "independent", "y": "independent"}}
},
{
 "width": 508, "height": 338, "data": {"name": "p6"},
 "layer": [
  {"transform": [{"filter": "indexof(datum.s,'Case 2')==0"}], "mark": {"type": "line"},
   "encoding": {
    "x": {"field": "x", "type": "quantitative", "scale": {"domain": [0, 10], "nice": false}, "axis": {"orient": "bottom", "values": [0,0.5,1,1.5,2,2.5,3,3.5,4,4.5,5,5.5,6,6.5,7,7.5,8,8.5,9,9.5,10], "format": ".1f", "labelAngle": 270, "labelAlign": "right", "labelBaseline": "middle", "labelPadding": 11, "grid": true, "title": "d [cm]", "titleAngle": 0, "titleX": 513, "titleY": -7, "titleAlign": "right", "titleBaseline": "alphabetic"}},
    "y": {"field": "y", "type": "quantitative", "scale": {"domain": [0, 5500], "nice": false}, "axis": {"orient": "left", "values": [0,500,1000,1500,2000,2500,3000,3500,4000,4500,5000,5500], "format": "d", "labelPadding": 19, "grid": true, "title": "Vb [kN]", "titleAngle": 0, "titleX": -3, "titleY": -6, "titleAlign": "left", "titleBaseline": "alphabetic"}},
    "order": {"field": "i", "type": "quantitative"},
    "color": {"field": "s", "type": "nominal", "scale": {"domain": ["Case 1 - Diaphragm","Case 2 - Diaphragm","Case 1 - Flexible slab","Case 2 - Flexible slab"], "range": ["#ff3333","#92d050","#ff3333","#92d050"]},
      "legend": {"title": null, "orient": "none", "legendX": 327, "legendY": 5, "padding": 0, "rowPadding": 0, "symbolOffset": 5.5, "labelOffset": 58, "labelBaseline": "top", "values": ["Case 1 - Diaphragm","Case 2 - Diaphragm"], "labelExpr": "datum.label == 'Case 1 - Diaphragm' ? ['Case 1 -', 'Diaphrag\u00a0\u00a0\u200b', 'm'] : ['Case 2 -', 'Diaphrag\u00a0\u00a0\u200b', 'm']", "encode": {"legend": {"update": {"strokeWidth": {"value": 2}}}, "labels": {"update": {"dy": {"value": -11}, "lineHeight": {"value": 25}}}}}},
    "strokeDash": {"field": "s", "type": "nominal", "scale": {"domain": ["Case 1 - Diaphragm","Case 2 - Diaphragm","Case 1 - Flexible slab","Case 2 - Flexible slab"], "range": [[1,0],[1,0],[4,3],[9,4]]}},
    "strokeWidth": {"field": "s", "type": "nominal", "scale": {"type": "ordinal", "domain": ["Case 1 - Diaphragm","Case 2 - Diaphragm","Case 1 - Flexible slab","Case 2 - Flexible slab"], "range": [1,3,1,3]}}
   }},
  {"transform": [{"filter": "indexof(datum.s,'Case 1')==0"}], "mark": {"type": "line"},
   "encoding": {
    "x": {"field": "x", "type": "quantitative", "axis": {"orient": "top", "labels": false, "domain": false, "grid": false, "title": "PO A +Y", "titleFontSize": 26, "titleAngle": 0, "titleX": 245, "titleY": -3, "titleAlign": "center", "titleBaseline": "alphabetic"}},
    "y": {"field": "y", "type": "quantitative", "axis": null},
    "order": {"field": "i", "type": "quantitative"},
    "color": {"field": "s", "type": "nominal"},
    "strokeDash": {"field": "s", "type": "nominal"},
    "strokeWidth": {"field": "s", "type": "nominal", "scale": {"type": "ordinal", "domain": ["Case 1 - Diaphragm","Case 2 - Diaphragm","Case 1 - Flexible slab","Case 2 - Flexible slab"], "range": [1,3,1,3]}}
   }}
 ],
 "resolve": {"axis": {"x": "independent", "y": "independent"}}
}
],
"config": {
 "font": "Liberation Serif",
 "view": {"stroke": null},
 "axis": {"labelFont": "Liberation Serif", "labelFontSize": 22, "labelColor": "#000000", "titleFont": "Liberation Serif", "titleFontSize": 22, "titleFontWeight": "normal", "titleColor": "#000000", "ticks": false, "gridColor": "#d9d9d9", "gridWidth": 1, "domainColor": "#bfbfbf", "domainWidth": 2, "labelOverlap": false, "labelFlush": false},
 "legend": {"labelFont": "Liberation Serif", "labelFontSize": 22.5, "labelColor": "#000000", "labelLimit": 400, "symbolType": "M0,0H8", "symbolSize": 256, "strokeColor": "#000000", "fillColor": "#ffffff"}
}
}
